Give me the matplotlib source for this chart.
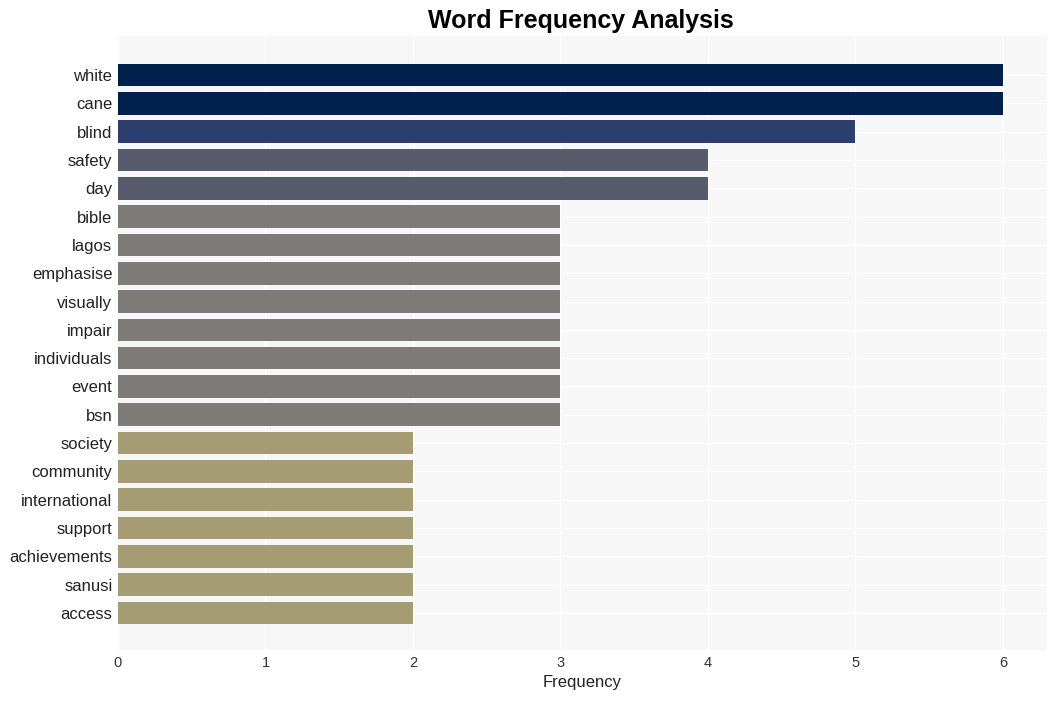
import matplotlib
matplotlib.use("Agg")
import matplotlib.pyplot as plt

plt.rcParams["font.family"] = ["Liberation Sans", "DejaVu Sans"]

words = ["white", "cane", "blind", "safety", "day", "bible", "lagos", "emphasise",
         "visually", "impair", "individuals", "event", "bsn", "society", "community",
         "international", "support", "achievements", "sanusi", "access"]
counts = [6, 6, 5, 4, 4, 3, 3, 3, 3, 3, 3, 3, 3, 2, 2, 2, 2, 2, 2, 2]

# colour per frequency level
level_colors = {6: "#00204D", 5: "#2C3E6E", 4: "#575C6D", 3: "#7C7B78", 2: "#A59C74"}

fig = plt.figure(figsize=(10.57, 7.01), dpi=100)
ax = fig.add_axes([0.1116, 0.0727, 0.879, 0.876])
ax.set_facecolor("#F7F7F7")

ypos = list(range(len(words)))
ax.barh(ypos, counts, height=0.8, color=[level_colors[c] for c in counts], zorder=2)

ax.set_yticks(ypos)
ax.set_yticklabels(words, fontsize=12, color="#222222")
ax.set_ylim(len(words) - 1 + 1.31, -1.38)
ax.set_xlim(0, 6.3)
ax.set_xticks(range(7))
ax.tick_params(axis="x", labelsize=10.5, colors="#333333", length=0, pad=4)
ax.tick_params(axis="y", length=0, pad=4)

ax.grid(True, color="white", linewidth=1, zorder=0)
ax.set_axisbelow(True)
for s in ax.spines.values():
    s.set_visible(False)

ax.set_xlabel("Frequency", fontsize=12, color="#222222", labelpad=4)
fig.suptitle("Word Frequency Analysis", fontsize=18, fontweight="bold", x=0.55, y=0.987)

fig.savefig("out.png", dpi=100)
